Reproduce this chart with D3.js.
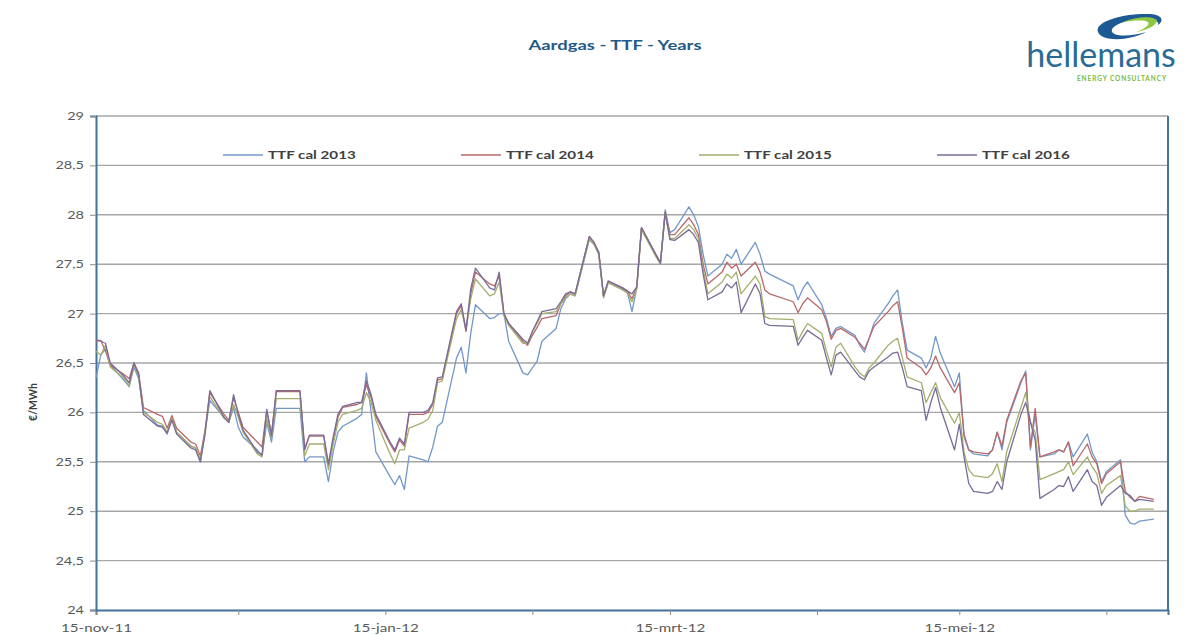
<!DOCTYPE html>
<html>
<head>
<meta charset="utf-8">
<title>Aardgas - TTF - Years</title>
<script src="https://cdn.jsdelivr.net/npm/d3@7"></script>
<style>
    body { margin: 0; background: #fff; }
    #chart-area { width: 1192px; height: 635px; }
    .axis text { font-family: Lato, "Open Sans", sans-serif; fill: #595959; }
</style>
</head>
<body>
<div id="chart-area"></div>
<script>

// trading days
const dates = [
    "2011-11-15","2011-11-16","2011-11-17","2011-11-18","2011-11-21","2011-11-22","2011-11-23","2011-11-24","2011-11-25",
    "2011-11-28","2011-11-29","2011-11-30","2011-12-01","2011-12-02","2011-12-05","2011-12-06","2011-12-07","2011-12-08",
    "2011-12-09","2011-12-12","2011-12-13","2011-12-14","2011-12-15","2011-12-16","2011-12-19","2011-12-20","2011-12-21",
    "2011-12-22","2011-12-23","2011-12-27","2011-12-28","2011-12-29","2011-12-30","2012-01-02","2012-01-03","2012-01-04",
    "2012-01-05","2012-01-06","2012-01-09","2012-01-10","2012-01-11","2012-01-12","2012-01-13","2012-01-16","2012-01-17",
    "2012-01-18","2012-01-19","2012-01-20","2012-01-23","2012-01-24","2012-01-25","2012-01-26","2012-01-27","2012-01-30",
    "2012-01-31","2012-02-01","2012-02-02","2012-02-03","2012-02-06","2012-02-07","2012-02-08","2012-02-09","2012-02-10",
    "2012-02-13","2012-02-14","2012-02-15","2012-02-16","2012-02-17","2012-02-20","2012-02-21","2012-02-22","2012-02-23",
    "2012-02-24","2012-02-27","2012-02-28","2012-02-29","2012-03-01","2012-03-02","2012-03-05","2012-03-06","2012-03-07",
    "2012-03-08","2012-03-09","2012-03-12","2012-03-13","2012-03-14","2012-03-15","2012-03-16","2012-03-19","2012-03-20",
    "2012-03-21","2012-03-22","2012-03-23","2012-03-26","2012-03-27","2012-03-28","2012-03-29","2012-03-30","2012-04-02",
    "2012-04-03","2012-04-04","2012-04-05","2012-04-10","2012-04-11","2012-04-12","2012-04-13","2012-04-16","2012-04-17",
    "2012-04-18","2012-04-19","2012-04-20","2012-04-23","2012-04-24","2012-04-25","2012-04-26","2012-04-27","2012-04-30",
    "2012-05-01","2012-05-02","2012-05-03","2012-05-04","2012-05-07","2012-05-08","2012-05-09","2012-05-10","2012-05-11",
    "2012-05-14","2012-05-15","2012-05-16","2012-05-17","2012-05-18","2012-05-21","2012-05-22","2012-05-23","2012-05-24",
    "2012-05-25","2012-05-28","2012-05-29","2012-05-30","2012-05-31","2012-06-01","2012-06-04","2012-06-05","2012-06-06",
    "2012-06-07","2012-06-08","2012-06-11","2012-06-12","2012-06-13","2012-06-14","2012-06-15","2012-06-18","2012-06-19",
    "2012-06-20","2012-06-21","2012-06-22","2012-06-25"
];

// €/MWh per contract
const cal2013 = [
    26.35,26.58,26.64,26.48,26.32,26.26,26.46,26.34,26.02,
    25.87,25.86,25.78,25.95,25.80,25.66,25.64,25.50,25.82,
    26.12,25.95,25.90,26.05,25.85,25.75,25.62,25.56,25.90,
    25.70,26.04,26.04,26.04,25.50,25.55,25.55,25.30,25.60,
    25.80,25.86,25.94,25.98,26.40,26.00,25.60,25.35,25.27,
    25.36,25.22,25.56,25.52,25.50,25.65,25.86,25.90,26.55,
    26.66,26.40,26.80,27.09,26.95,26.96,27.00,27.00,26.72,
    26.40,26.38,26.45,26.52,26.72,26.85,27.05,27.15,27.20,
    27.18,27.75,27.70,27.60,27.17,27.32,27.25,27.22,27.02,
    27.26,27.86,27.60,27.52,28.05,27.82,27.85,28.08,28.00,
    27.88,27.60,27.38,27.50,27.60,27.56,27.65,27.50,27.72,
    27.60,27.43,27.40,27.28,27.14,27.25,27.32,27.09,26.95,
    26.77,26.85,26.87,26.78,26.68,26.61,26.75,26.90,27.10,
    27.18,27.24,26.90,26.63,26.55,26.45,26.55,26.77,26.60,
    26.26,26.40,25.75,25.62,25.58,25.56,25.62,25.80,25.62,
    25.90,26.30,26.42,25.62,25.98,25.55,25.58,25.62,25.60,
    25.70,25.55,25.78,25.60,25.50,25.30,25.40,25.52,24.96,
    24.88,24.87,24.90,24.92
];

const cal2014 = [
    26.72,26.73,26.62,26.48,26.38,26.34,26.50,26.40,26.05,
    25.98,25.96,25.84,25.97,25.84,25.70,25.68,25.56,25.82,
    26.20,25.98,25.92,26.15,26.00,25.85,25.70,25.65,26.02,
    25.78,26.21,26.21,26.21,25.64,25.76,25.76,25.46,25.72,
    25.95,26.05,26.08,26.10,26.28,26.15,25.96,25.68,25.60,
    25.72,25.66,25.98,25.98,26.00,26.08,26.33,26.34,27.00,
    27.08,26.82,27.20,27.42,27.30,27.28,27.38,27.00,26.90,
    26.72,26.68,26.78,26.86,26.95,26.98,27.10,27.18,27.22,
    27.20,27.78,27.72,27.62,27.18,27.33,27.26,27.23,27.15,
    27.27,27.87,27.60,27.52,28.03,27.80,27.80,27.97,27.90,
    27.80,27.50,27.30,27.42,27.52,27.46,27.50,27.38,27.52,
    27.42,27.24,27.20,27.12,27.01,27.10,27.16,27.04,26.92,
    26.74,26.83,26.85,26.76,26.70,26.64,26.75,26.87,27.02,
    27.08,27.12,26.85,26.55,26.45,26.38,26.45,26.57,26.45,
    26.20,26.30,25.78,25.62,25.60,25.58,25.62,25.80,25.66,
    25.92,26.32,26.40,25.65,26.04,25.55,25.60,25.62,25.60,
    25.70,25.46,25.68,25.55,25.48,25.28,25.38,25.50,25.20,
    25.14,25.10,25.15,25.12
];

const cal2015 = [
    26.62,26.58,26.68,26.46,26.34,26.27,26.47,26.36,26.00,
    25.90,25.88,25.80,25.94,25.80,25.66,25.64,25.52,25.80,
    26.16,25.94,25.90,26.08,25.95,25.80,25.58,25.55,25.94,
    25.74,26.14,26.14,26.14,25.56,25.68,25.68,25.42,25.68,
    25.90,25.98,26.02,26.04,26.20,26.10,25.92,25.58,25.48,
    25.62,25.62,25.84,25.90,25.93,26.02,26.30,26.32,26.95,
    27.04,26.85,27.15,27.35,27.18,27.20,27.32,26.98,26.88,
    26.70,26.70,26.82,26.90,27.00,27.02,27.10,27.16,27.20,
    27.18,27.76,27.70,27.60,27.16,27.31,27.24,27.21,27.12,
    27.25,27.85,27.58,27.50,28.02,27.76,27.76,27.90,27.85,
    27.76,27.45,27.20,27.32,27.40,27.36,27.42,27.20,27.38,
    27.30,26.97,26.95,26.94,26.73,26.82,26.90,26.80,26.62,
    26.46,26.66,26.70,26.46,26.40,26.36,26.45,26.50,26.68,
    26.72,26.75,26.55,26.36,26.30,26.10,26.20,26.30,26.15,
    25.89,26.00,25.60,25.42,25.36,25.34,25.38,25.48,25.30,
    25.60,26.05,26.20,25.90,25.80,25.32,25.38,25.40,25.42,
    25.50,25.37,25.55,25.45,25.38,25.18,25.26,25.36,25.05,
    25.00,25.00,25.02,25.02
];

const cal2016 = [
    26.74,26.72,26.70,26.50,26.36,26.30,26.50,26.38,25.98,
    25.86,25.85,25.79,25.92,25.78,25.64,25.62,25.50,25.78,
    26.22,25.95,25.90,26.18,25.98,25.82,25.60,25.57,26.03,
    25.76,26.22,26.22,26.22,25.62,25.77,25.77,25.48,25.75,
    25.98,26.06,26.10,26.10,26.32,26.18,25.98,25.70,25.62,
    25.74,25.68,26.00,26.00,26.02,26.10,26.35,26.36,27.02,
    27.10,26.83,27.25,27.46,27.26,27.24,27.42,27.00,26.90,
    26.74,26.70,26.82,26.92,27.02,27.05,27.12,27.20,27.22,
    27.20,27.78,27.72,27.62,27.18,27.33,27.26,27.23,27.20,
    27.27,27.87,27.60,27.51,28.02,27.75,27.74,27.85,27.80,
    27.72,27.40,27.14,27.22,27.30,27.26,27.32,27.01,27.30,
    27.20,26.90,26.88,26.87,26.68,26.76,26.83,26.73,26.55,
    26.38,26.58,26.61,26.42,26.36,26.33,26.42,26.46,26.56,
    26.60,26.61,26.45,26.26,26.22,25.92,26.10,26.25,26.05,
    25.62,25.88,25.55,25.28,25.20,25.18,25.20,25.30,25.22,
    25.50,25.98,26.10,25.90,25.72,25.13,25.22,25.26,25.25,
    25.35,25.20,25.42,25.30,25.26,25.06,25.14,25.26,25.18,
    25.16,25.10,25.12,25.10
];

const seriesNames = ["TTF cal 2013", "TTF cal 2014", "TTF cal 2015", "TTF cal 2016"];
const seriesValues = [cal2013, cal2014, cal2015, cal2016];

const yTicks = [24, 24.5, 25, 25.5, 26, 26.5, 27, 27.5, 28, 28.5, 29];
const xTickDates = ["2011-11-15", "2011-12-15", "2012-01-15", "2012-02-15", "2012-03-15", "2012-04-15", "2012-05-15", "2012-06-15"];
const xTickLabels = ["15-nov-11", "", "15-jan-12", "", "15-mrt-12", "", "15-mei-12", ""];
const xDomain = ["2011-11-15", "2012-06-28"];


class TTFChart {

    constructor(_parentElement) {
        this.parentElement = _parentElement;
        this.initVis();
    }

    initVis() {
        let vis = this;

        vis.margin = { top: 116, right: 24, bottom: 25, left: 96 };
        vis.width = 1192 - vis.margin.left - vis.margin.right;
        vis.height = 635 - vis.margin.top - vis.margin.bottom;

        // the picture is stretched sideways, so the text is too
        vis.sx = 1.32;
        vis.colors = ["#7398c8", "#b9686c", "#a5ae6c", "#7a6b98"];

        vis.root = d3.select("#" + vis.parentElement).append("svg")
            .attr("width", 1192)
            .attr("height", 635);

        vis.svg = vis.root.append("g")
            .attr("transform", "translate(" + vis.margin.left + "," + vis.margin.top + ")");

        vis.parseDate = d3.utcParse("%Y-%m-%d");

        // Scales and axes
        vis.x = d3.scaleUtc()
            .domain(xDomain.map(vis.parseDate))
            .range([0, vis.width]);

        vis.y = d3.scaleLinear()
            .domain([24, 29])
            .range([vis.height, 0]);

        let nl = d3.formatLocale({ decimal: ",", thousands: ".", grouping: [3], currency: ["€", ""] });
        let fmt = nl.format(".1~f");

        vis.xAxis = d3.axisBottom(vis.x)
            .tickValues(xTickDates.map(vis.parseDate))
            .tickFormat((d, i) => xTickLabels[i])
            .tickSize(5)
            .tickPadding(9);

        vis.yAxis = d3.axisLeft(vis.y)
            .tickValues(yTicks)
            .tickFormat(fmt)
            .tickSize(6)
            .tickPadding(6);

        // gridlines
        vis.svg.append("g")
            .attr("class", "grid")
            .selectAll("line")
            .data(yTicks.filter(d => d > 24))
            .enter().append("line")
            .attr("x1", 0)
            .attr("x2", vis.width)
            .attr("y1", d => vis.y(d))
            .attr("y2", d => vis.y(d))
            .attr("stroke", "#a6a6a6")
            .attr("stroke-width", 1.4);

        vis.svg.append("g")
            .attr("class", "x-axis axis")
            .attr("transform", "translate(0," + vis.height + ")");

        vis.svg.append("g")
            .attr("class", "y-axis axis");

        // right border of the plot
        vis.svg.append("line")
            .attr("x1", vis.width).attr("x2", vis.width)
            .attr("y1", 0).attr("y2", vis.height)
            .attr("stroke", "#3f77a3")
            .attr("stroke-width", 2);

        vis.lineGroup = vis.svg.append("g").attr("class", "lines");

        vis.line = d3.line()
            .x(d => vis.x(d.date))
            .y(d => vis.y(d.value));

        vis.drawHeader();
        vis.drawLegend();

        vis.wrangleData();
    }

    wrangleData() {
        let vis = this;

        let parsed = dates.map(vis.parseDate);

        vis.displayData = seriesNames.map((name, k) => ({
            name: name,
            values: seriesValues[k].map((v, i) => ({ date: parsed[i], value: v }))
        }));

        vis.updateVis();
    }

    updateVis() {
        let vis = this;

        vis.lineGroup.selectAll(".series")
            .data(vis.displayData)
            .enter().append("path")
            .attr("class", "series")
            .attr("d", d => vis.line(d.values))
            .attr("fill", "none")
            .attr("stroke", (d, i) => vis.colors[i])
            .attr("stroke-width", 1.3)
            .attr("stroke-linejoin", "round");

        vis.svg.select(".x-axis").call(vis.xAxis);
        vis.svg.select(".y-axis").call(vis.yAxis);

        vis.svg.selectAll(".axis .domain")
            .attr("stroke", "#44739a")
            .attr("stroke-width", 2);
        vis.svg.selectAll(".axis .tick line")
            .attr("stroke", "#8c8c8c");

        vis.svg.selectAll(".x-axis text")
            .attr("font-size", 11.5)
            .attr("transform", "scale(" + vis.sx + ",1)");

        vis.svg.selectAll(".y-axis text")
            .attr("font-size", 11)
            .attr("x", -12 / vis.sx)
            .attr("transform", "scale(" + vis.sx + ",1)");
    }

    drawHeader() {
        let vis = this;

        vis.root.append("text")
            .attr("transform", "translate(615,50) scale(" + vis.sx + ",1)")
            .attr("text-anchor", "middle")
            .attr("font-family", "Lato, 'Open Sans', sans-serif")
            .attr("font-weight", "bold")
            .attr("font-size", 14)
            .attr("fill", "#1f5b86")
            .text("Aardgas - TTF - Years");

        // y axis title
        vis.root.append("text")
            .attr("transform", "translate(37,402) rotate(-90)")
            .attr("text-anchor", "middle")
            .attr("font-family", "Lato, 'Open Sans', sans-serif")
            .attr("font-weight", "bold")
            .attr("font-size", 10.5)
            .attr("fill", "#404040")
            .text("€/MWh");

        // logo
        let logo = vis.root.append("g").attr("class", "logo");

        logo.append("path")
            .attr("d", "M1098,32 C1094,21 1125,13 1150,14 C1163,15 1164,21 1158,25 C1160,20 1150,18 1138,19 C1120,21 1108,28 1113,33 C1118,37 1134,36 1146,32 C1130,41 1102,42 1098,32 Z")
            .attr("fill", "#1d5a93");

        logo.append("path")
            .attr("d", "M1124,22 C1136,16 1156,16 1157,21 C1156,26 1146,30 1136,32 C1147,28 1152,23 1146,21 C1139,20 1130,21 1124,22 Z")
            .attr("fill", "#8dc63f");

        logo.append("text")
            .attr("x", 1101)
            .attr("y", 67)
            .attr("text-anchor", "middle")
            .attr("font-family", "Lato, 'Open Sans', sans-serif")
            .attr("font-size", 34)
            .attr("fill", "#2b6c94")
            .text("hellemans");

        logo.append("text")
            .attr("x", 1122)
            .attr("y", 81)
            .attr("text-anchor", "middle")
            .attr("font-family", "Lato, 'Open Sans', sans-serif")
            .attr("font-weight", "bold")
            .attr("font-size", 6.5)
            .attr("letter-spacing", 0.9)
            .attr("fill", "#7cb940")
            .text("ENERGY CONSULTANCY");
    }

    drawLegend() {
        let vis = this;

        let legend = vis.svg.append("g")
            .attr("class", "legend")
            .attr("transform", "translate(127,39)");

        let item = legend.selectAll(".legend-item")
            .data(seriesNames)
            .enter().append("g")
            .attr("class", "legend-item")
            .attr("transform", (d, i) => "translate(" + (i * 238) + ",0)");

        item.append("line")
            .attr("x1", 0).attr("x2", 40)
            .attr("y1", 0).attr("y2", 0)
            .attr("stroke", (d, i) => vis.colors[i])
            .attr("stroke-width", 1.5);

        item.append("text")
            .attr("transform", "translate(45,4) scale(" + vis.sx + ",1)")
            .attr("font-family", "Lato, 'Open Sans', sans-serif")
            .attr("font-weight", "bold")
            .attr("font-size", 11.5)
            .attr("fill", "#404040")
            .text(d => d);
    }
}

new TTFChart("chart-area");

</script>
</body>
</html>
